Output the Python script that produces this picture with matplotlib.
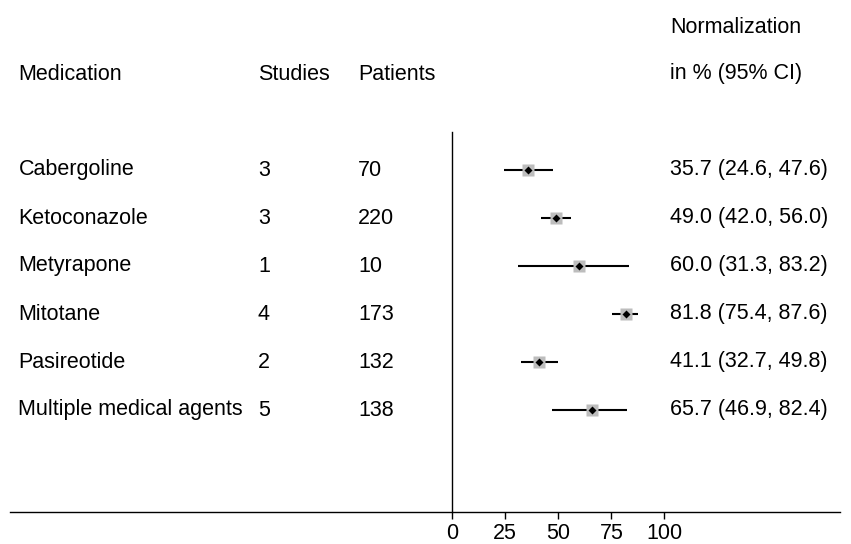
import matplotlib.pyplot as plt

plt.rcParams['font.family'] = ['Liberation Sans', 'DejaVu Sans']

medications = ["Cabergoline", "Ketoconazole", "Metyrapone", "Mitotane",
               "Pasireotide", "Multiple medical agents"]
studies = [3, 3, 1, 4, 2, 5]
patients = [70, 220, 10, 173, 132, 138]
estimate = [35.7, 49.0, 60.0, 81.8, 41.1, 65.7]
lower = [24.6, 42.0, 31.3, 75.4, 32.7, 46.9]
upper = [47.6, 56.0, 83.2, 87.6, 49.8, 82.4]
xticks = [0, 25, 50, 75, 100]

W, H = 851, 544
fig = plt.figure(figsize=(W / 100, H / 100), dpi=100)
ax = fig.add_axes([10 / W, (H - 512) / H, 830 / W, 512 / H])

fs = 15.5
rows = list(range(1, len(medications) + 1))

# columns in data units
x_med, x_stu, x_pat, x_ci = -204, -91.3, -44.2, 102.6

for y, m, s, p, e, lo, hi in zip(rows, medications, studies, patients, estimate, lower, upper):
    ax.text(x_med, y, m, fontsize=fs, va='center', ha='left')
    ax.text(x_stu, y, str(s), fontsize=fs, va='center', ha='left')
    ax.text(x_pat, y, str(p), fontsize=fs, va='center', ha='left')
    ax.text(x_ci, y, f"{e:.1f} ({lo:.1f}, {hi:.1f})", fontsize=fs, va='center', ha='left')
    ax.plot([lo, hi], [y, y], color='black', lw=1.5, solid_capstyle='butt', zorder=2)
    ax.plot(e, y, marker='s', ms=8, color='#bdbdbd', mec='none', zorder=3)
    ax.plot(e, y, marker='D', ms=4.5, color='black', mec='none', zorder=4)

ax.text(x_med, -1, "Medication", fontsize=fs, va='center', ha='left')
ax.text(x_stu, -1, "Studies", fontsize=fs, va='center', ha='left')
ax.text(x_pat, -1, "Patients", fontsize=fs, va='center', ha='left')
ax.text(x_ci, -1, "in % (95% CI)", fontsize=fs, va='center', ha='left')
ax.text(x_ci, -1.96, "Normalization", fontsize=fs, va='center', ha='left')

ybot = 6 + 102 / 48
ax.plot([0, 0], [0.21, ybot], color='black', lw=1)

ax.set_xlim(-208, 182.6)
ax.set_ylim(ybot, 1 - 170 / 48)
ax.set_xticks(xticks)
ax.set_xticklabels([str(t) for t in xticks], fontsize=fs)
ax.set_yticks([])
for side in ['top', 'left', 'right']:
    ax.spines[side].set_visible(False)
ax.spines['bottom'].set_linewidth(1)
ax.tick_params(axis='x', length=5, width=1, pad=3)

fig.savefig("out.png", dpi=100)
